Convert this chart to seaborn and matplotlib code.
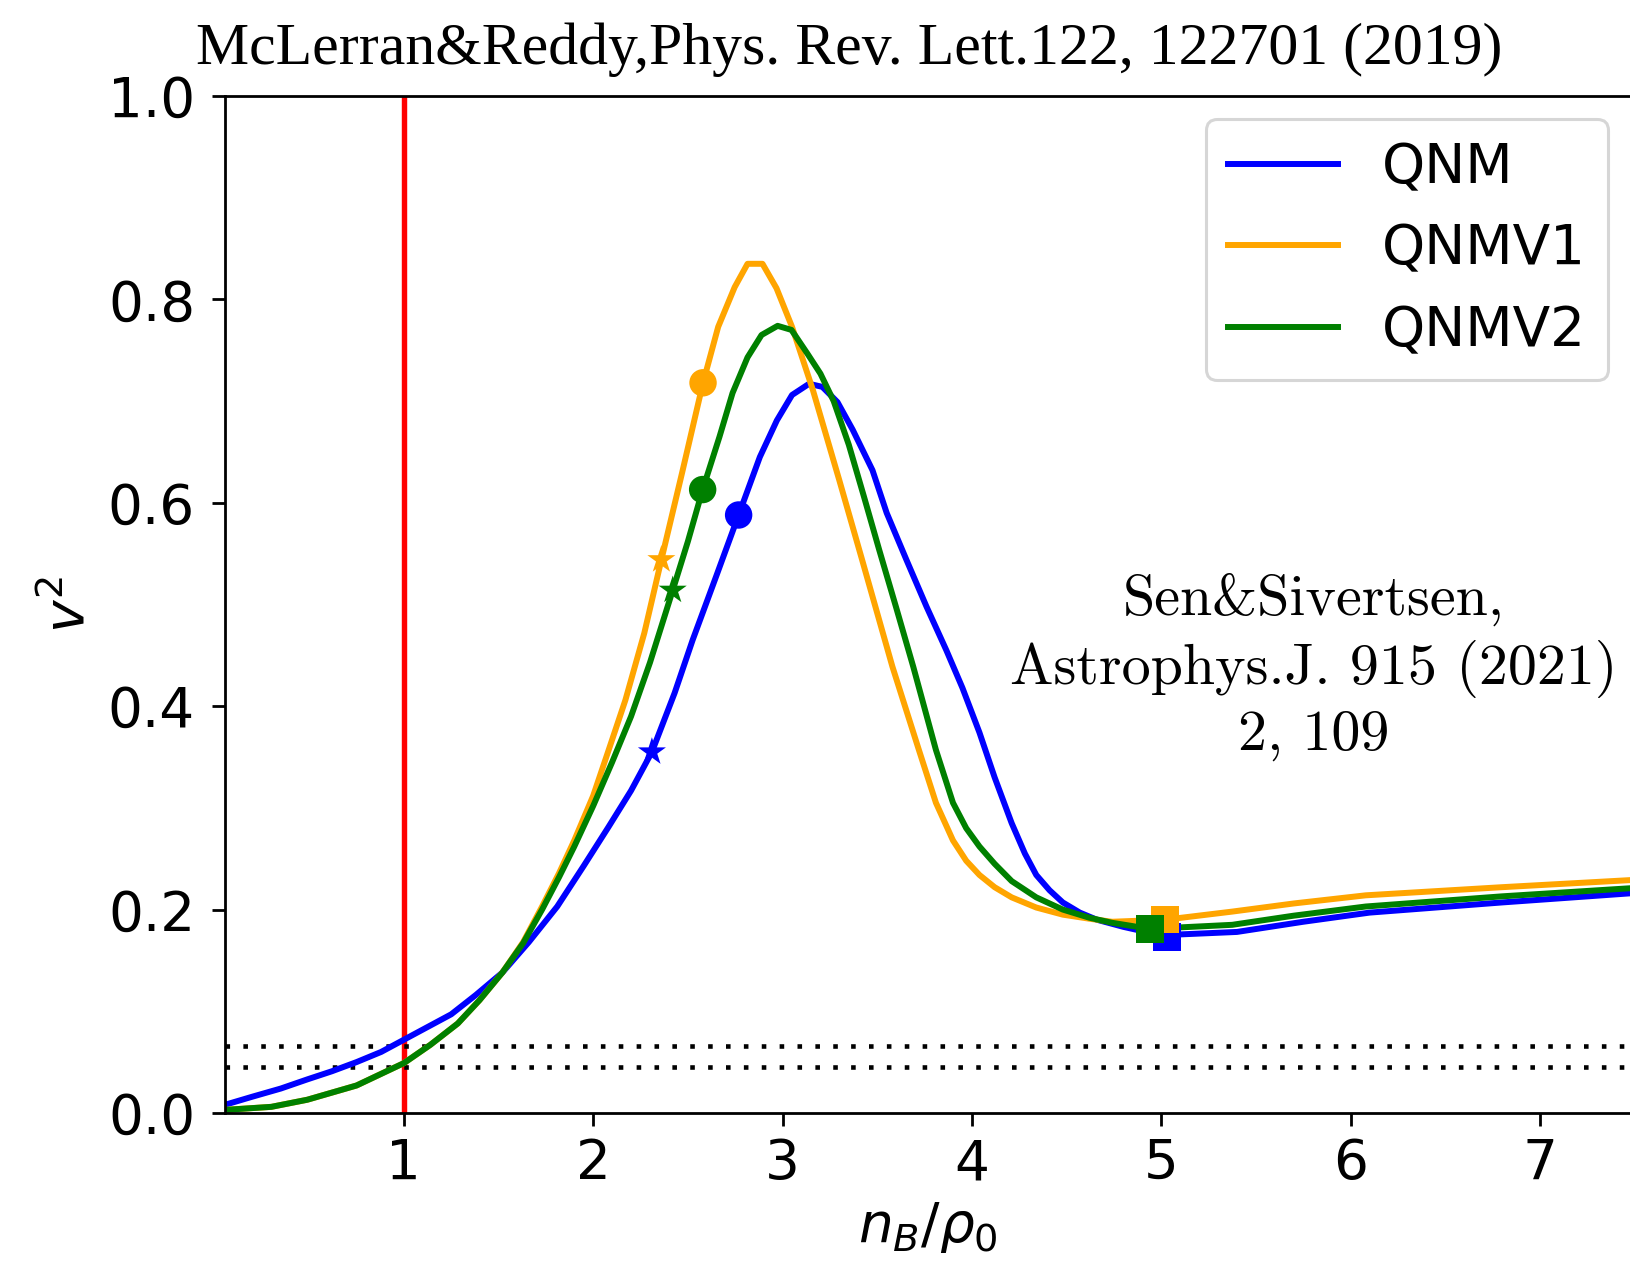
import pandas as pd
import matplotlib.pyplot as plt
import seaborn as sns

# --- 1. DONNEES ---
x_qnm = [0.055, 0.2, 0.35, 0.49, 0.62, 0.75, 0.88, 1.0, 1.12, 1.25, 1.38, 1.52, 1.66, 1.81, 1.95,
         2.08, 2.2, 2.31, 2.43, 2.525, 2.65, 2.768, 2.88, 2.97, 3.05, 3.14, 3.21, 3.29, 3.37,
         3.475, 3.55, 3.654, 3.76, 3.865, 3.95, 4.04, 4.12, 4.21, 4.28, 4.34, 4.41, 4.48, 4.57,
         4.66, 4.8, 4.92, 5.03, 5.4, 5.75, 6.1, 6.8, 7.48]
y_qnm = [0.008, 0.016, 0.024, 0.033, 0.041, 0.05, 0.06, 0.072, 0.084, 0.097, 0.116, 0.138, 0.168,
         0.203, 0.243, 0.281, 0.317, 0.355, 0.413, 0.465, 0.528, 0.588, 0.645, 0.681, 0.706, 0.717,
         0.714, 0.699, 0.672, 0.632, 0.59, 0.544, 0.498, 0.455, 0.418, 0.374, 0.33, 0.285, 0.255,
         0.234, 0.219, 0.207, 0.197, 0.19, 0.183, 0.178, 0.175, 0.178, 0.188, 0.197, 0.207, 0.216]

x_v1 = [0.055, 0.3, 0.49, 0.75, 1.0, 1.14, 1.285, 1.4, 1.52, 1.63, 1.73, 1.82, 1.9, 2.0, 2.08,
        2.17, 2.27, 2.36, 2.47, 2.58, 2.66, 2.747, 2.815, 2.894, 2.968, 3.05, 3.16, 3.3, 3.42,
        3.58, 3.72, 3.81, 3.9, 3.97, 4.04, 4.12, 4.21, 4.34, 4.48, 4.62, 4.74, 5.02, 5.375,
        5.7, 6.08, 6.8, 7.48]
y_v1 = [0.003, 0.006, 0.013, 0.027, 0.049, 0.067, 0.088, 0.111, 0.138, 0.168, 0.203, 0.236, 0.268,
        0.312, 0.356, 0.406, 0.472, 0.544, 0.63, 0.718, 0.773, 0.812, 0.835, 0.835, 0.811, 0.773,
        0.711, 0.622, 0.544, 0.439, 0.357, 0.305, 0.268, 0.248, 0.234, 0.222, 0.212, 0.202, 0.195,
        0.191, 0.188, 0.19, 0.198, 0.206, 0.214, 0.222, 0.229]

x_v2 = [0.055, 0.3, 0.49, 0.75, 1.0, 1.14, 1.285, 1.4, 1.52, 1.63, 1.73, 1.82, 1.9, 2.0, 2.1,
        2.2, 2.3, 2.42, 2.5, 2.578, 2.667, 2.736, 2.815, 2.889, 2.974, 3.047, 3.13, 3.2, 3.27,
        3.35, 3.43, 3.51, 3.6, 3.69, 3.81, 3.9, 3.97, 4.04, 4.12, 4.21, 4.34, 4.48, 4.62, 4.74,
        4.94, 5.375, 5.7, 6.08, 6.8, 7.48]
y_v2 = [0.003, 0.006, 0.013, 0.027, 0.049, 0.067, 0.088, 0.111, 0.138, 0.167, 0.2, 0.232, 0.262,
        0.302, 0.345, 0.39, 0.443, 0.514, 0.562, 0.613, 0.665, 0.708, 0.743, 0.765, 0.774, 0.77,
        0.747, 0.727, 0.7, 0.657, 0.606, 0.554, 0.497, 0.439, 0.357, 0.305, 0.28, 0.262, 0.245,
        0.228, 0.212, 0.2, 0.192, 0.187, 0.181, 0.185, 0.194, 0.203, 0.213, 0.221]

modeles = ['QNM', 'QNMV1', 'QNMV2']
couleurs = ['blue', 'orange', 'green']
courbes_x = [x_qnm, x_v1, x_v2]
courbes_y = [y_qnm, y_v1, y_v2]

# points particuliers : etoile, rond, carre
etoiles_x = [2.31, 2.36, 2.42]
etoiles_y = [0.355, 0.544, 0.514]
ronds_x = [2.768, 2.58, 2.578]
ronds_y = [0.588, 0.718, 0.613]
carres_x = [5.03, 5.02, 4.94]
carres_y = [0.173, 0.19, 0.181]

seuils_v2 = [0.066, 0.045]
ligne_rouge = 1.0
xticks = [1, 2, 3, 4, 5, 6, 7]
yticks = [0.0, 0.2, 0.4, 0.6, 0.8, 1.0]

titre = 'McLerran&Reddy,Phys. Rev. Lett.122, 122701 (2019)'
reference = 'Sen&Sivertsen,\nAstrophys.J. 915 (2021)\n2, 109'

# --- 2. FIGURE ---
fig = plt.figure(figsize=(16.3, 12.65), dpi=100)
ax = fig.add_axes([0.138, 0.1202, 0.8625, 0.8039])

ax.axvline(ligne_rouge, color='red', linewidth=3.9, zorder=1)
for s in seuils_v2:
    ax.axhline(s, color='black', linewidth=3.3, linestyle=(0, (1, 2.9)), zorder=1)

for nom, c, xs, ys in zip(modeles, couleurs, courbes_x, courbes_y):
    df = pd.DataFrame({'x': xs, 'y': ys})
    sns.lineplot(data=df, x='x', y='y', color=c, linewidth=4.3, label=nom, sort=False,
                 estimator=None, ax=ax, zorder=2)

for i, c in enumerate(couleurs):
    sns.scatterplot(x=[etoiles_x[i]], y=[etoiles_y[i]], marker='*', s=450, color=c,
                    edgecolor='none', ax=ax, zorder=3, legend=False)
    sns.scatterplot(x=[ronds_x[i]], y=[ronds_y[i]], marker='o', s=390, color=c,
                    edgecolor='none', ax=ax, zorder=3, legend=False)
    sns.scatterplot(x=[carres_x[i]], y=[carres_y[i]], marker='s', s=390, color=c,
                    edgecolor='none', ax=ax, zorder=3, legend=False)

# --- 3. AXES ---
ax.set_xlim(0.055, 7.48)
ax.set_ylim(0, 1.0)
ax.set_xticks(xticks)
ax.set_xticklabels([str(t) for t in xticks])
ax.set_yticks(yticks)
ax.set_yticklabels([f'{t:.1f}' for t in yticks])
ax.tick_params(labelsize=39.5, length=9.5, width=2)
ax.tick_params(axis='x', pad=8)
ax.tick_params(axis='y', pad=12)
for sp in ax.spines.values():
    sp.set_linewidth(2)
ax.spines['right'].set_visible(False)

ax.set_xlabel(r'$n_B/\rho_0$', fontsize=39.5, labelpad=6)
ax.set_ylabel(r'$v^2$', fontsize=39.5, labelpad=8)

leg = ax.legend(loc='upper right', fontsize=39.5, handlelength=2.0, borderaxespad=0.42)
leg.get_frame().set_linewidth(2.2)
for ln in leg.get_lines():
    ln.set_linewidth(4.3)

# --- 4. TEXTES ---
fig.text(0.521, 1 - 64 / 1265, titre, ha='center', va='baseline',
         fontsize=43, family=['Liberation Serif', 'DejaVu Serif'])
fig.text(0.806, 1 - 667 / 1265, reference, ha='center', va='center', multialignment='center',
         fontsize=41.8, linespacing=1.3, family=['cmr10', 'DejaVu Serif'])

fig.savefig('out.png', dpi=100)
